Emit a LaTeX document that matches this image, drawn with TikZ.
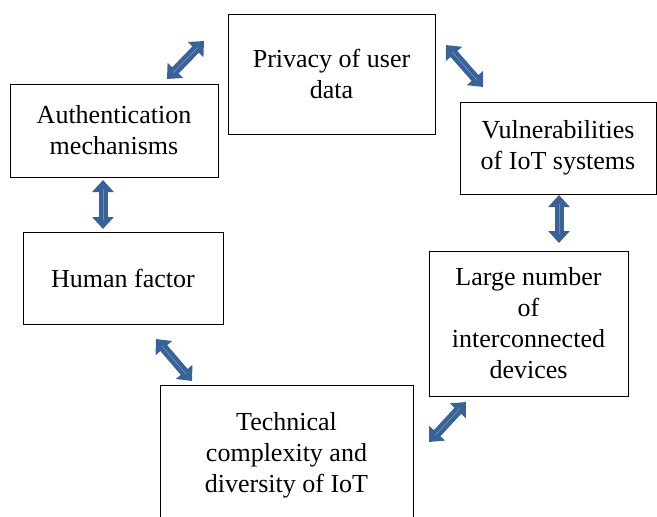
\documentclass[tikz,border=0pt]{standalone}
\usepackage{fontspec}
\setmainfont{Liberation Serif}
\usetikzlibrary{arrows.meta,positioning}

\definecolor{arrowblue}{RGB}{58,98,150}
\definecolor{arrowlight}{RGB}{95,140,195}

\begin{document}
\begin{tikzpicture}[
x=1pt, y=-1pt,
box/.style={draw, semithick, rectangle, align=center, inner sep=0pt, font=\fontsize{26}{31}\selectfont},
link/.style={arrowblue, line width=9pt, {Triangle[length=12pt,width=21pt]}-{Triangle[length=12pt,width=21pt]}},
linkline/.style={arrowlight, line width=0.8pt, shorten <=9pt, shorten >=9pt}
]
\clip (0,0) rectangle (657,517);
\useasboundingbox (0,0) rectangle (657,517);

\node[box, minimum width=207pt, minimum height=120pt] (privacy) at (331.5,74) {Privacy of user\\data};
\node[box, minimum width=208pt, minimum height=93pt] (auth) at (114,130.5) {Authentication\\mechanisms};
\node[box, minimum width=196pt, minimum height=92pt] (vuln) at (558,148) {Vulnerabilities\\of IoT systems};
\node[box, minimum width=200pt, minimum height=92pt] (human) at (123,278) {Human factor};
\node[box, minimum width=199pt, minimum height=145pt] (devices) at (528.5,323.5) {Large number\\of\\interconnected\\devices};
\node[box, minimum width=253pt, minimum height=140pt] (tech) at (286.5,455) {Technical\\complexity and\\diversity of IoT};

% arrow ends
\coordinate (a1) at (167,79);  \coordinate (b1) at (204,41);
\coordinate (a2) at (446,45);  \coordinate (b2) at (483,87);
\coordinate (a3) at (103,180); \coordinate (b3) at (103,229);
\coordinate (a4) at (559,195); \coordinate (b4) at (559,243);
\coordinate (a5) at (156,339); \coordinate (b5) at (192,381);
\coordinate (a6) at (429,442); \coordinate (b6) at (466,402);

\foreach \i in {1,...,6}{
  \draw[link] (a\i) -- (b\i);
  \draw[linkline] (a\i) -- (b\i);
}

\end{tikzpicture}
\end{document}
